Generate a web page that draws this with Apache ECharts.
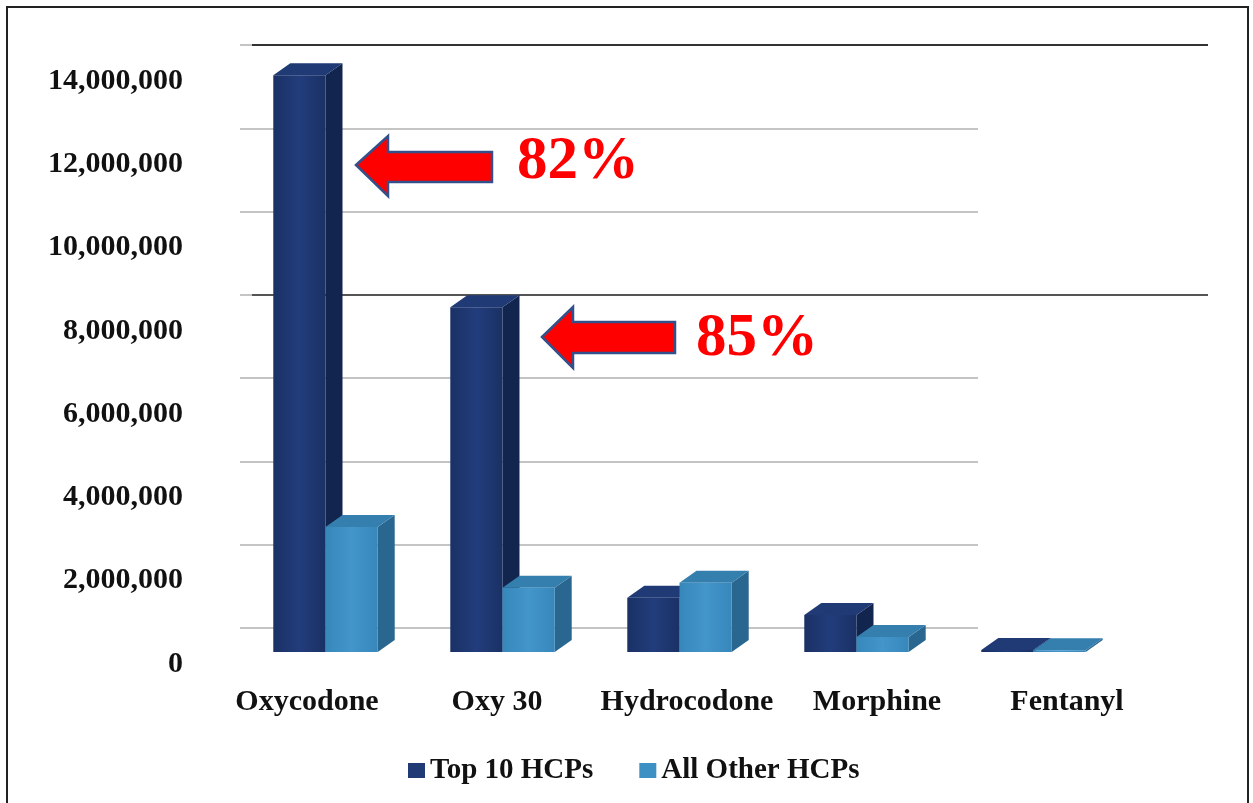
<!DOCTYPE html>
<html>
<head>
<meta charset="utf-8">
<script src="https://cdn.jsdelivr.net/npm/echarts@6/dist/echarts.min.js"></script>
<style>
html,body{margin:0;padding:0;background:#fff;}
#c{width:1253px;height:803px;}
</style>
</head>
<body>
<div id="c"></div>
<script>
var categories = ['Oxycodone', 'Oxy 30', 'Hydrocodone', 'Morphine', 'Fentanyl'];
var top10 = [13850000, 8280000, 1300000, 890000, 50000];
var allOther = [3000000, 1540000, 1660000, 360000, 40000];
var seriesNames = ['Top 10 HCPs', 'All Other HCPs'];
var yTickLabels = ['0', '2,000,000', '4,000,000', '6,000,000', '8,000,000', '10,000,000', '12,000,000', '14,000,000'];
var yStep = 2000000;
var yMax = 14000000;
var callouts = ['82%', '85%'];

var SERIF = '"Liberation Serif", "Times New Roman", serif';
var darkCol = {front: {type:'linear',x:0,y:0,x2:1,y2:0,colorStops:[{offset:0,color:'#1a3165'},{offset:0.5,color:'#223d7c'},{offset:1,color:'#1a3165'}]}, side:'#12254f', top:'#203a76'};
var lightCol = {front: {type:'linear',x:0,y:0,x2:1,y2:0,colorStops:[{offset:0,color:'#3787bb'},{offset:0.5,color:'#4396ca'},{offset:1,color:'#3787bb'}]}, side:'#2a6790', top:'#357fae'};

function make3D(left, col) {
  return function (params, api) {
    var i = api.value(0), v = api.value(1);
    var base = api.coord([i, 0]);
    var top = api.coord([i, v]);
    var band = api.size([1, 0])[0];
    var w = band * 0.295;
    var x0 = left ? base[0] - w : base[0];
    var x1 = x0 + w;
    var yb = base[1], yt = top[1];
    var dx = 17, dy = -12;
    return {type: 'group', children: [
      {type: 'polygon', shape: {points: [[x1, yb], [x1 + dx, yb + dy], [x1 + dx, yt + dy], [x1, yt]]}, style: {fill: col.side}},
      {type: 'polygon', shape: {points: [[x0, yt], [x1, yt], [x1 + dx, yt + dy], [x0 + dx, yt + dy]]}, style: {fill: col.top}},
      {type: 'polygon', shape: {points: [[x0, yb], [x1, yb], [x1, yt], [x0, yt]]}, style: {fill: col.front}}
    ]};
  };
}

function toData(arr) { return arr.map(function (v, i) { return [i, v]; }); }

var chart = echarts.init(document.getElementById('c'), null, {renderer: 'canvas'});
var option = {
  backgroundColor: '#ffffff',
  animation: false,
  legend: {
    data: seriesNames,
    left: 403, top: 751,
    icon: 'rect', itemWidth: 17, itemHeight: 15, itemGap: 46,
    textStyle: {fontFamily: SERIF, fontWeight: 'bold', fontSize: 29, color: '#111'}
  },
  grid: [
    {left: 237, right: 131, top: 69, bottom: 151},   // bars
    {left: 240, right: 275, top: 45, bottom: 175},   // back wall light gridlines
    {left: 212, right: 91, top: 81, bottom: 139},    // labels
    {left: 252, right: 45, top: 45, bottom: 175}     // dark long lines
  ],
  xAxis: [
    {type: 'category', gridIndex: 0, data: categories, axisLine: {show: false}, axisTick: {show: false}, axisLabel: {show: false}},
    {type: 'category', gridIndex: 1, data: categories, axisLine: {show: false}, axisTick: {show: false}, axisLabel: {show: false}},
    {type: 'category', gridIndex: 2, data: categories, axisLine: {show: false}, axisTick: {show: false},
      axisLabel: {show: true, margin: 23, fontFamily: SERIF, fontWeight: 'bold', fontSize: 30, color: '#111', interval: 0}},
    {type: 'category', gridIndex: 3, data: categories, axisLine: {show: false}, axisTick: {show: false}, axisLabel: {show: false}}
  ],
  yAxis: [
    {type: 'value', gridIndex: 0, min: 0, max: yMax, interval: yStep, axisLine: {show: false}, axisTick: {show: false}, axisLabel: {show: false}, splitLine: {show: false}},
    {type: 'value', gridIndex: 1, min: 0, max: yMax, interval: yStep, axisLine: {show: false}, axisTick: {show: false}, axisLabel: {show: false},
      splitLine: {show: true, lineStyle: {color: '#c4c4c4', width: 2}}},
    {type: 'value', gridIndex: 2, min: 0, max: yMax, interval: yStep, axisLine: {show: false}, axisTick: {show: false}, splitLine: {show: false},
      axisLabel: {show: true, margin: 29, fontFamily: SERIF, fontWeight: 'bold', fontSize: 30, color: '#111',
        formatter: function (v) { return yTickLabels[Math.round(v / yStep)]; }}},
    {type: 'value', gridIndex: 3, min: 0, max: yMax, interval: yStep, axisLine: {show: false}, axisTick: {show: false}, axisLabel: {show: false},
      splitLine: {show: true, lineStyle: {width: 2, color: ['transparent', 'transparent', 'transparent', 'transparent', '#555', 'transparent', 'transparent', '#333']}}}
  ],
  series: [
    {name: seriesNames[0], type: 'custom', xAxisIndex: 0, yAxisIndex: 0, itemStyle: {color: '#1f3a75'},
      renderItem: make3D(true, darkCol), data: toData(top10), encode: {x: 0, y: 1}},
    {name: seriesNames[1], type: 'custom', xAxisIndex: 0, yAxisIndex: 0, itemStyle: {color: '#3d90c4'},
      renderItem: make3D(false, lightCol), data: toData(allOther), encode: {x: 0, y: 1}}
  ],
  graphic: [
    {type: 'rect', shape: {x: 7, y: 7, width: 1241, height: 800}, style: {fill: 'none', stroke: '#222', lineWidth: 2}, z: 100},
    {type: 'polygon', shape: {points: [[356, 165], [388, 136], [388, 152], [492, 152], [492, 182], [388, 182], [388, 196]]},
      style: {fill: '#ff0000', stroke: '#34508a', lineWidth: 2.5}, z: 100},
    {type: 'polygon', shape: {points: [[542, 337], [573, 307], [573, 322], [675, 322], [675, 353], [573, 353], [573, 368]]},
      style: {fill: '#ff0000', stroke: '#34508a', lineWidth: 2.5}, z: 100},
    {type: 'text', x: 517, y: 162, style: {text: callouts[0], font: 'bold 61px ' + SERIF, fill: '#ff0000', verticalAlign: 'middle', align: 'left'}, z: 100},
    {type: 'text', x: 696, y: 339, style: {text: callouts[1], font: 'bold 61px ' + SERIF, fill: '#ff0000', verticalAlign: 'middle', align: 'left'}, z: 100}
  ]
};
chart.setOption(option);
</script>
</body>
</html>
